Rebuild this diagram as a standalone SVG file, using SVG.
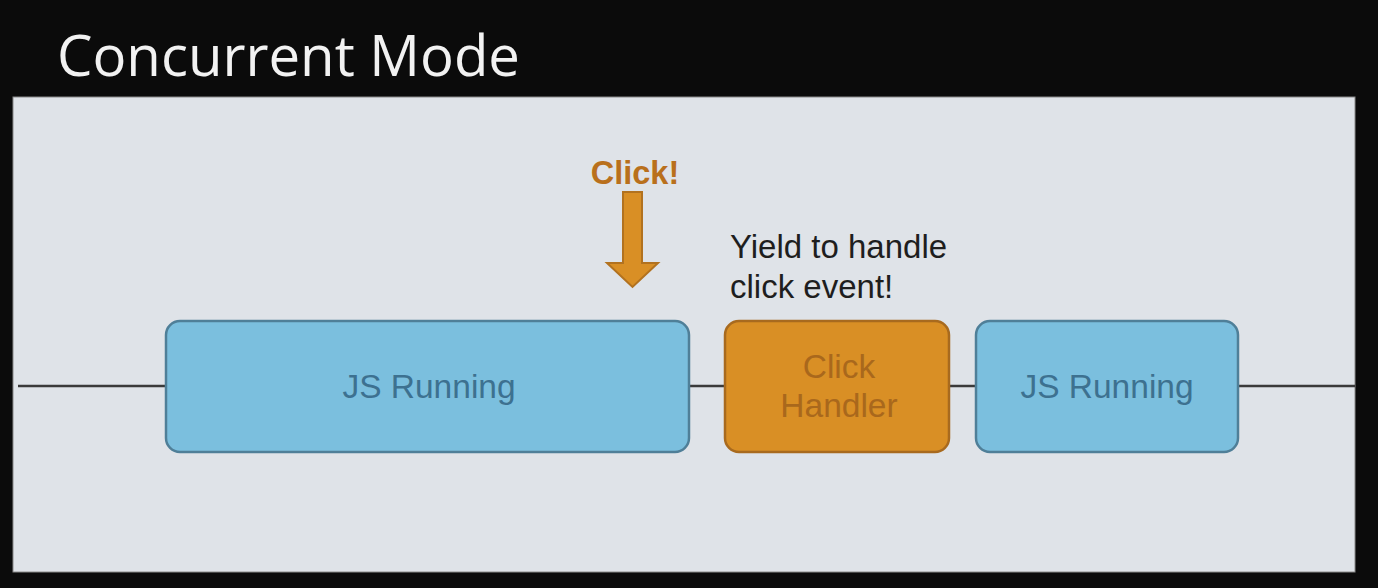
<svg xmlns="http://www.w3.org/2000/svg" width="1378" height="588" viewBox="0 0 1378 588">
<style>
.box{stroke-width:2.5}
.js{fill:#7bbfde;stroke:#4f7f98}
.ch{fill:#d98f25;stroke:#a86a1e}
.lbl{font-family:"Liberation Sans",Arial,sans-serif;font-size:33.5px;text-anchor:middle}
.jst{fill:#3d7190}
.cht{fill:#a9681c}
</style>
<rect x="0" y="0" width="1378" height="588" fill="#0b0b0b"/>
<text x="57" y="76" font-family="'Open Sans',sans-serif" font-size="57" fill="#f2f2f2" textLength="463" lengthAdjust="spacingAndGlyphs">Concurrent Mode</text>
<rect x="13" y="97" width="1342" height="475" fill="#dfe3e8" stroke="#8a8a8a" stroke-width="1"/>
<g id="connectors">
<line x1="18" y1="386" x2="166" y2="386" stroke="#3a3a3a" stroke-width="2.5"/>
<line x1="689" y1="386" x2="725" y2="386" stroke="#3a3a3a" stroke-width="2.5"/>
<line x1="949" y1="386" x2="976" y2="386" stroke="#3a3a3a" stroke-width="2.5"/>
<line x1="1238" y1="386" x2="1355" y2="386" stroke="#3a3a3a" stroke-width="2.5"/>
</g>
<g id="click-arrow">
<text x="635" y="184" font-family="'Liberation Sans',Arial,sans-serif" font-size="32.5" font-weight="bold" fill="#b9701c" text-anchor="middle">Click!</text>
<polygon points="623,192 642,192 642,263 658,263 632.5,287 607,263 623,263" fill="#d98f25" stroke="#b2721f" stroke-width="2"/>
</g>
<g id="yield-note">
<text font-family="'Liberation Sans',Arial,sans-serif" font-size="33" fill="#1e1e1e"><tspan x="730" y="258">Yield to handle</tspan><tspan x="730" y="298">click event!</tspan></text>
</g>
<g id="js-running-1">
<rect class="box js" x="166" y="321" width="523" height="131" rx="14"/>
<text class="lbl jst" x="429" y="398">JS Running</text>
</g>
<g id="click-handler">
<rect class="box ch" x="725" y="321" width="224" height="131" rx="14"/>
<text class="lbl cht" x="839" y="378">Click</text>
<text class="lbl cht" x="839" y="417">Handler</text>
</g>
<g id="js-running-2">
<rect class="box js" x="976" y="321" width="262" height="131" rx="14"/>
<text class="lbl jst" x="1107" y="398">JS Running</text>
</g>
</svg>
